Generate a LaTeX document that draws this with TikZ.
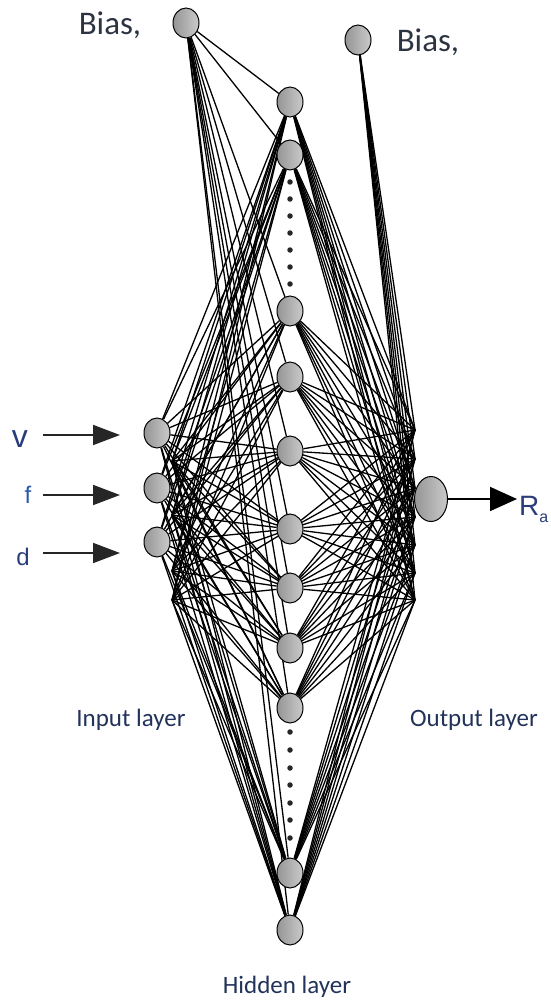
\documentclass[tikz,border=0pt]{standalone}
\usepackage{fontspec}
\setmainfont{Carlito}
\newfontfamily\arialf{Liberation Sans}
\usetikzlibrary{shapes.geometric,arrows.meta,backgrounds}
\definecolor{nodeL}{HTML}{959595}
\definecolor{nodeR}{HTML}{CACACA}
\definecolor{biastext}{HTML}{2C3442}
\definecolor{layertext}{HTML}{22335A}
\definecolor{vartext}{HTML}{2A3D7A}
\definecolor{ftext}{HTML}{2A5AA8}
\begin{document}
\begin{tikzpicture}[x=1pt,y=-1pt,
  neuron/.style={ellipse,draw=black,line width=1pt,minimum width=26pt,minimum height=30pt,inner sep=0pt,left color=nodeL,right color=nodeR},
  link/.style={line width=1.3pt,black},
  inarrow/.style={line width=1.8pt,black!85,-{Triangle[length=27pt,width=20pt]}},
  outarrow/.style={line width=1.8pt,black,-{Triangle[length=27pt,width=24pt]}},
  biaslabel/.style={font=\fontsize{33}{33}\selectfont,text=biastext,anchor=base,inner sep=0pt},
  layerlabel/.style={font=\fontsize{25}{25}\selectfont,text=layertext,anchor=base,inner sep=0pt},
  varlabel/.style={font=\arialf,text=vartext,anchor=base,inner sep=0pt},
  dotmark/.style={circle,fill=black!85,minimum size=5.5pt,inner sep=0pt}]
\useasboundingbox (0,0) rectangle (550,1003);

% bias nodes
\node[neuron] (b1) at (186,23) {};
\node[neuron] (b2) at (358,40) {};
\node[biaslabel] (tb1) at (110,35) {Bias,};
\node[biaslabel] (tb2) at (428,52) {Bias,};

% input nodes
\node[neuron] (in1) at (157,433) {};
\node[neuron] (in2) at (157,488) {};
\node[neuron] (in3) at (157,542) {};

% hidden nodes
\foreach \y [count=\i] in {102,155,311,377,451,529,588,648,708,873,930}
  \node[neuron] (h\i) at (290,\y) {};

% dots
\foreach \y [count=\i] in {182,199,216,233,250,267,284}
  \node[dotmark] (du\i) at (290,\y) {};
\foreach \y [count=\i] in {732,750,768,785,803,820,838}
  \node[dotmark] (dl\i) at (290,\y) {};

% output node
\node[ellipse,draw=black,line width=1pt,minimum width=33pt,minimum height=45pt,inner sep=0pt,left color=nodeL,right color=nodeR] (out) at (431,499) {};

% convergence points on the left and right edges
\coordinate (L1) at (172,461);
\coordinate (L2) at (172,515);
\coordinate (L3) at (172,571);
\coordinate (L4) at (172,600);
\coordinate (R0) at (415,430);
\coordinate (R1) at (415,459);
\coordinate (R2) at (415,488);
\coordinate (R3) at (415,517);
\coordinate (R4) at (415,545);
\coordinate (R5) at (415,573);
\coordinate (R6) at (415,600);

\begin{pgfonlayer}{background}
\foreach \i in {1,...,11}{
  \draw[link] (b1) -- (h\i);
  \foreach \l in {in1,L1,in2,L2,in3,L3,L4}
    \draw[link] (\l) -- (h\i);
  \foreach \r in {R0,R1,R2,R3,R4,R5,R6}
    \draw[link] (h\i) -- (\r);
}
\foreach \r in {R0,R1,R2,R3,R4,R5,R6}
  \draw[link] (b2) -- (\r);
\end{pgfonlayer}

% input labels and arrows
\node[varlabel,font=\arialf\fontsize{32}{32}\selectfont] (lv) at (20,447) {v};
\node[varlabel,font=\arialf\fontsize{24}{24}\selectfont,text=ftext] (lf) at (28,503) {f};
\node[varlabel,font=\arialf\fontsize{24}{24}\selectfont] (ld) at (23,565) {d};
\coordinate (s1) at (43,435);  \coordinate (t1) at (120,435);
\coordinate (s2) at (43,495);  \coordinate (t2) at (120,495);
\coordinate (s3) at (43,553);  \coordinate (t3) at (120,553);
\draw[inarrow] (s1) -- (t1);
\draw[inarrow] (s2) -- (t2);
\draw[inarrow] (s3) -- (t3);

% output arrow and label
\coordinate (to) at (517,499);
\draw[outarrow] (out) -- (to);
\node[varlabel,anchor=base west,font=\arialf\fontsize{28}{28}\selectfont] (lra) at (519,515) {R\raisebox{-0.25em}{\fontsize{16}{16}\selectfont a}};

% layer labels
\node[layerlabel] (lin) at (131,726) {Input layer};
\node[layerlabel] (lout) at (474,726) {Output layer};
\node[layerlabel] (lhid) at (287,993) {Hidden layer};
\end{tikzpicture}
\end{document}
